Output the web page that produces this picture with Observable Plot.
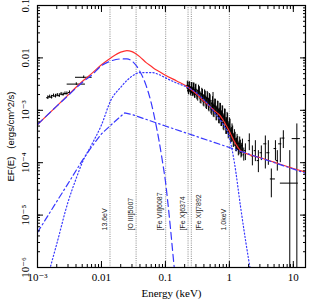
<!DOCTYPE html>
<html><head><meta charset="utf-8">
<script src="https://cdn.jsdelivr.net/npm/d3@7"></script>
<script src="https://cdn.jsdelivr.net/npm/@observablehq/plot@0.6"></script>
<style>
body{margin:0;background:#fff;} svg{display:block}
svg text{font-family:"Liberation Serif","Times New Roman","DejaVu Serif",serif;}
</style>
</head><body><div id="chart"></div>
<script>
// ---- axis ticks ----
const xMajor = [0.001, 0.01, 0.1, 1, 10];
const xTickLabels = ["10\u207B\u00B3", "0.01", "0.1", "1", "10"];
const yMajor = [1e-6, 1e-5, 1e-4, 1e-3, 0.01, 0.1];
const yTickLabels = ["10\u207B\u2076", "10\u207B\u2075", "10\u207B\u2074", "10\u207B\u00B3", "0.01", "0.1"];

// ---- marked energies (keV) ----
const lineE = [0.0136, 0.0348, 0.101, 0.226, 0.254, 1.0];
const lineLabels = ["13.6eV", "[O III]5007", "[Fe VII]6087", "[Fe X]6374", "[Fe XI]7892", "1.0keV"];

// ---- model components: energy (keV) and log10 EF(E) ----
const totalE = [0.001,0.002,0.003,0.005,0.007,0.01,0.014,0.02,0.025,0.03,0.04,0.05,0.06,0.07,0.08,0.1,0.15,0.22,0.3,0.4,0.5,0.6,0.7,0.8,0.9,1.0,1.2,1.5,2,3,5,10,15.5];
const totalLogF = [-3.27,-2.92,-2.71,-2.45,-2.30,-2.13,-2.0,-1.89,-1.86,-1.88,-1.98,-2.09,-2.16,-2.22,-2.26,-2.33,-2.44,-2.55,-2.68,-2.83,-2.93,-3.02,-3.09,-3.19,-3.30,-3.40,-3.60,-3.77,-3.84,-3.90,-3.99,-4.11,-4.18];

const diskE = [0.001,0.002,0.003,0.005,0.007,0.01,0.014,0.02,0.025,0.03,0.04,0.05,0.06,0.07,0.08,0.09,0.1,0.11,0.12,0.13,0.14];
const diskLogF = [-3.27,-2.92,-2.72,-2.47,-2.33,-2.15,-2.06,-2.02,-2.02,-2.06,-2.26,-2.53,-2.86,-3.23,-3.60,-3.98,-4.35,-4.80,-5.25,-5.70,-6.10];

const warmE = [0.0015,0.002,0.003,0.004,0.005,0.007,0.01,0.014,0.02,0.025,0.03,0.04,0.06,0.08,0.1,0.15,0.22,0.3,0.4,0.5,0.6,0.8,1.0,1.2,1.5,1.8,2.2];
const warmLogF = [-6.1,-5.55,-4.75,-4.31,-4.0,-3.66,-3.28,-2.81,-2.56,-2.43,-2.35,-2.28,-2.28,-2.32,-2.38,-2.48,-2.56,-2.66,-2.80,-2.93,-3.06,-3.27,-3.52,-4.0,-4.85,-5.5,-6.15];

const plE = [0.001,0.002,0.003,0.005,0.007,0.01,0.015,0.023,0.03,0.1,1,15.5];
const plLogF = [-5.33,-4.74,-4.40,-3.96,-3.70,-3.45,-3.25,-3.05,-3.08,-3.30,-3.71,-4.20];

// ---- optical/UV data ----
const uvE = [0.00145,0.00155,0.00166,0.00178,0.00191,0.00204,0.00219,0.00234,0.00251,0.00269,0.00288,0.00316,0.00404,0.00528];
const uvElo = [0.00139,0.00148,0.00159,0.0017,0.00183,0.00195,0.0021,0.00224,0.0024,0.00257,0.00275,0.00302,0.00291,0.00393];
const uvEhi = [0.00152,0.00162,0.00174,0.00186,0.002,0.00214,0.00229,0.00245,0.00263,0.00282,0.00302,0.00331,0.00562,0.00716];
const uvLogF = [-2.76,-2.74,-2.75,-2.72,-2.73,-2.71,-2.72,-2.69,-2.70,-2.68,-2.68,-2.66,-2.50,-2.37];
const uvLogErr = [0.035,0.03,0.035,0.03,0.035,0.03,0.035,0.03,0.03,0.03,0.03,0.03,0.025,0.025];

// ---- X-ray data (dense part, two interleaved sets) ----
const denseE = [0.22,0.23,0.24,0.25,0.26,0.27,0.28,0.29,0.30,0.32,0.34,0.36,0.38,0.40,0.42,0.44,0.46,0.48,0.50,0.53,0.555,0.56,0.59,0.62,0.65,0.68,0.71,0.74,0.77,0.80,0.84,0.88,0.92,0.96,1.00,1.05,1.10,1.15,1.20,1.26,1.32,1.38,1.45,1.52,1.60];
const denseEerr = [0.008,0.008,0.008,0.009,0.009,0.009,0.01,0.01,0.01,0.011,0.012,0.013,0.013,0.014,0.015,0.015,0.016,0.017,0.017,0.018,0.019,0.02,0.021,0.022,0.023,0.024,0.025,0.026,0.027,0.028,0.029,0.031,0.032,0.034,0.035,0.037,0.038,0.04,0.042,0.044,0.046,0.048,0.05,0.053,0.056];
const denseLogF = [-2.525,-2.62,-2.555,-2.645,-2.56,-2.65,-2.57,-2.68,-2.60,-2.725,-2.65,-2.78,-2.70,-2.83,-2.745,-2.875,-2.775,-2.915,-2.82,-2.975,-2.82,-3.01,-2.91,-3.07,-2.955,-3.12,-3.00,-3.175,-3.055,-3.235,-3.12,-3.31,-3.19,-3.40,-3.285,-3.485,-3.39,-3.585,-3.495,-3.665,-3.585,-3.745,-3.635,-3.785,-3.675];
const denseLogErr = [0.08,0.085,0.09,0.085,0.09,0.09,0.09,0.09,0.10,0.10,0.10,0.10,0.10,0.105,0.11,0.11,0.11,0.115,0.115,0.12,0.16,0.12,0.125,0.13,0.13,0.135,0.135,0.135,0.14,0.14,0.145,0.15,0.15,0.145,0.14,0.135,0.13,0.125,0.125,0.125,0.125,0.125,0.125,0.125,0.125];

const dense2E = [0.225,0.235,0.245,0.255,0.265,0.275,0.285,0.295,0.31,0.33,0.35,0.37,0.39,0.41,0.43,0.45,0.47,0.49,0.515,0.545,0.575,0.605,0.635,0.665,0.695,0.725,0.755,0.785,0.82,0.86,0.90,0.94,0.98,1.025,1.075,1.125,1.175,1.23,1.29,1.35,1.415,1.485,1.56];
const dense2Eerr = [0.008,0.008,0.009,0.009,0.009,0.01,0.01,0.01,0.011,0.012,0.012,0.013,0.014,0.014,0.015,0.016,0.016,0.017,0.018,0.019,0.02,0.021,0.022,0.023,0.024,0.025,0.026,0.027,0.029,0.03,0.031,0.033,0.034,0.036,0.038,0.039,0.041,0.043,0.045,0.047,0.05,0.052,0.055];
const dense2LogF = [-2.57,-2.53,-2.63,-2.57,-2.66,-2.58,-2.69,-2.61,-2.70,-2.62,-2.76,-2.68,-2.81,-2.72,-2.85,-2.76,-2.89,-2.80,-2.94,-2.87,-3.00,-2.93,-3.06,-2.97,-3.11,-3.02,-3.16,-3.07,-3.23,-3.14,-3.30,-3.22,-3.37,-3.32,-3.47,-3.44,-3.57,-3.55,-3.66,-3.63,-3.72,-3.70,-3.76];
const dense2LogErr = [0.10,0.08,0.08,0.10,0.07,0.10,0.08,0.10,0.10,0.10,0.11,0.10,0.11,0.11,0.12,0.12,0.12,0.12,0.13,0.13,0.14,0.14,0.14,0.14,0.15,0.15,0.15,0.15,0.16,0.16,0.16,0.16,0.15,0.15,0.14,0.14,0.13,0.13,0.13,0.13,0.13,0.13,0.13];

// ---- X-ray data (sparse, high energy) ----
const sparseE = [1.68,1.78,2.05,2.29,2.55,2.84,3.16,3.65,4.07,4.53,5.25,5.62,6.26,6.98,8.8,11.35];
const sparseElo = [1.64,1.72,1.98,2.2,2.45,2.72,3.02,3.45,3.85,4.37,5.0,5.4,5.9,6.6,6.27,9.6];
const sparseEhi = [1.72,1.84,2.12,2.38,2.65,2.96,3.3,3.85,4.3,5.25,5.5,5.85,6.6,7.4,11.97,12.9];
const sparseLogF = [-3.85,-3.77,-3.58,-3.87,-3.77,-3.96,-3.81,-3.64,-3.81,-4.31,-3.73,-3.96,-3.64,-3.53,-4.39,-3.54];
const sparseLogLo = [-3.97,-3.96,-3.77,-4.06,-3.98,-4.19,-3.96,-4.12,-4.05,-4.67,-3.96,-4.16,-4.0,-3.73,-7,-7];
const sparseLogHi = [-3.72,-3.64,-3.45,-3.68,-3.58,-3.77,-3.68,-3.49,-3.58,-4.12,-3.58,-3.77,-3.53,-3.39,-3.77,-3.26];

// ---- build tables ----
const curve = (E, L) => E.map((e, i) => ({E: e, F: 10 ** L[i]}));
const total = curve(totalE, totalLogF);
const disk = curve(diskE, diskLogF);
const warm = curve(warmE, warmLogF);
const pl = curve(plE, plLogF);

const points = [];
const addSym = (E, Eerr, L, Lerr) => E.forEach((e, i) => points.push({E: e, lo: e - Eerr[i], hi: e + Eerr[i], F: 10 ** L[i], Flo: 10 ** (L[i] - Lerr[i]), Fhi: 10 ** (L[i] + Lerr[i])}));
uvE.forEach((e, i) => points.push({E: e, lo: uvElo[i], hi: uvEhi[i], F: 10 ** uvLogF[i], Flo: 10 ** (uvLogF[i] - uvLogErr[i]), Fhi: 10 ** (uvLogF[i] + uvLogErr[i])}));
addSym(denseE, denseEerr, denseLogF, denseLogErr);
addSym(dense2E, dense2Eerr, dense2LogF, dense2LogErr);
sparseE.forEach((e, i) => points.push({E: e, lo: sparseElo[i], hi: sparseEhi[i], F: 10 ** sparseLogF[i], Flo: 10 ** sparseLogLo[i], Fhi: 10 ** sparseLogHi[i]}));

const xDomain = [0.001, 15.5], yDomain = [1e-6, 0.1];
const xAll = d3.scaleLog().domain(xDomain).ticks();
const yAll = d3.scaleLog().domain(yDomain).ticks();
const blank = () => "";
const serif = "Liberation Serif";
const sans = "Liberation Sans";
const BLUE = "#3838ff", RED = "#ff3030";

const idxLeft = lineE.map((d, i) => i).filter(i => i !== 4);
const idxRight = [4];
const yTitle = "EF(E)   (ergs/cm^2/s)";

const chart = Plot.plot({
  width: 317, height: 305,
  marginTop: 5, marginBottom: 38, marginLeft: 37, marginRight: 12,
  x: {type: "log", domain: xDomain, axis: null, label: null},
  y: {type: "log", domain: yDomain, axis: null, label: null},
  style: {background: "white", fontSize: "11px", color: "black"},
  marks: [
    Plot.ruleX(lineE, {x: d => d, stroke: "#8a8a8a", strokeWidth: 1, strokeDasharray: "1,1.2"}),
    Plot.text(idxLeft, {x: i => lineE[i], text: i => lineLabels[i], frameAnchor: "bottom", dy: -37, dx: -5.5, rotate: -90, textAnchor: "start", lineAnchor: "middle", fontSize: 7, fill: "#222"}),
    Plot.text(idxRight, {x: i => lineE[i], text: i => lineLabels[i], frameAnchor: "bottom", dy: -37, dx: 7, rotate: -90, textAnchor: "start", lineAnchor: "middle", fontSize: 7, fill: "#222"}),
    // data
    Plot.ruleX(points, {x: "E", y1: "Flo", y2: "Fhi", stroke: "black", strokeWidth: 1, clip: true}),
    Plot.ruleY(points, {y: "F", x1: "lo", x2: "hi", stroke: "black", strokeWidth: 1, clip: true}),
    // model
    Plot.line(total, {x: "E", y: "F", stroke: RED, strokeWidth: 1.2, curve: "monotone-x", clip: true}),
    Plot.line(disk, {x: "E", y: "F", stroke: BLUE, strokeWidth: 1.2, strokeDasharray: "7,4", curve: "monotone-x", clip: true}),
    Plot.line(warm, {x: "E", y: "F", stroke: BLUE, strokeWidth: 1.2, strokeDasharray: "1.2,2.2", curve: "monotone-x", clip: true}),
    Plot.line(pl, {x: "E", y: "F", stroke: BLUE, strokeWidth: 1.2, strokeDasharray: "6,3,1.5,3", curve: "linear", clip: true}),
    // frame and ticks
    Plot.frame({stroke: "black", strokeWidth: 1.2}),
    Plot.axisX(xAll, {anchor: "bottom", tickSize: -3, tickFormat: blank, label: null}),
    Plot.axisX(xMajor, {anchor: "bottom", tickSize: -6, tickFormat: blank, label: null}),
    Plot.axisX(xAll, {anchor: "top", tickSize: -3, tickFormat: blank, label: null}),
    Plot.axisX(xMajor, {anchor: "top", tickSize: -6, tickFormat: blank, label: null}),
    Plot.axisY(yAll, {anchor: "left", tickSize: -3, tickFormat: blank, label: null}),
    Plot.axisY(yMajor, {anchor: "left", tickSize: -6, tickFormat: blank, label: null}),
    Plot.axisY(yAll, {anchor: "right", tickSize: -3, tickFormat: blank, label: null}),
    Plot.axisY(yMajor, {anchor: "right", tickSize: -6, tickFormat: blank, label: null}),
    // tick labels
    Plot.text(xMajor, {x: d => d, text: (d, i) => xTickLabels[i], frameAnchor: "bottom", dy: 10, lineAnchor: "middle", textAnchor: "middle", fontSize: 11}),
    Plot.text(yMajor, {y: d => d, text: (d, i) => yTickLabels[i], frameAnchor: "left", dx: -12, rotate: -90, lineAnchor: "middle", textAnchor: "middle", fontSize: 11}),
    // axis titles
    Plot.text(["Energy (keV)"], {frameAnchor: "bottom", dy: 26, lineAnchor: "middle", textAnchor: "middle", fontSize: 11}),
    Plot.text([yTitle], {frameAnchor: "left", dx: -27, rotate: -90, lineAnchor: "middle", textAnchor: "middle", fontSize: 9.5})
  ]
});
document.getElementById("chart").append(chart);
// sans-serif for the line labels and the y title
d3.select(chart).selectAll("text")
  .filter(function () { const t = this.textContent; return lineLabels.includes(t) || t === yTitle; })
  .style("font-family", "'Liberation Sans', Arial, sans-serif");
</script></body></html>
